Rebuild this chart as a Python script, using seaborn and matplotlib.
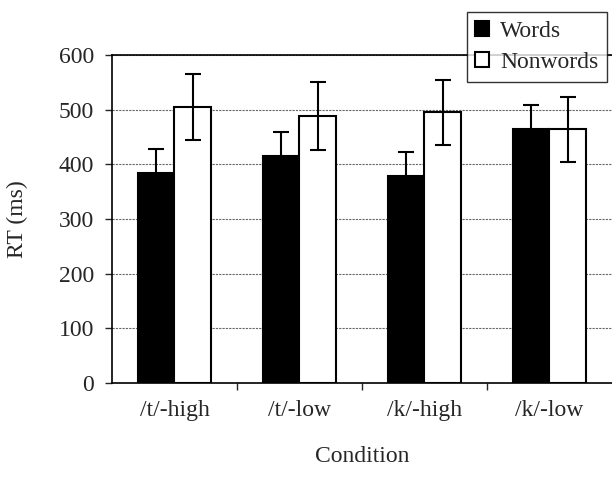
import matplotlib.pyplot as plt
import seaborn as sns
import pandas as pd

conditions = ['/t/-high', '/t/-low', '/k/-high', '/k/-low']
words_rt = [384, 415, 378, 464]
words_err = [44, 44, 45, 45]
nonwords_rt = [505, 489, 495, 464]
nonwords_err = [61, 62, 59, 60]

df = pd.DataFrame({
    'Condition': conditions * 2,
    'RT': words_rt + nonwords_rt,
    'Type': ['Words'] * 4 + ['Nonwords'] * 4,
})

sns.set_style('white')
plt.rcParams['font.family'] = ['Liberation Serif', 'DejaVu Serif']

fig = plt.figure(figsize=(6.12, 4.82), dpi=100)
ax = fig.add_axes([0.183, 0.2054, 0.817, 0.6805])

sns.barplot(data=df, x='Condition', y='RT', hue='Type',
            palette={'Words': 'black', 'Nonwords': 'white'},
            edgecolor='black', linewidth=1.5, width=0.58,
            saturation=1, errorbar=None, ax=ax)

# error bars on top of each bar
for cont, errs in zip(ax.containers, [words_err, nonwords_err]):
    for bar, e in zip(cont, errs):
        x = bar.get_x() + bar.get_width() / 2
        ax.errorbar(x, bar.get_height(), yerr=e, fmt='none', ecolor='black',
                    elinewidth=1.5, capsize=6, capthick=1.5, zorder=5)

ax.set_ylim(0, 600)
ax.set_xlim(-0.5, 3.5)
ax.set_yticks(range(0, 601, 100))
ax.yaxis.grid(True, linestyle=(0, (2, 1)), color='#666666', linewidth=0.8)
ax.set_axisbelow(True)

ax.set_xticks([0.5, 1.5, 2.5], minor=True)
ax.tick_params(axis='x', which='major', length=0, pad=12, labelsize=17)
ax.tick_params(axis='x', which='minor', length=5, width=1, direction='out', bottom=True)
ax.tick_params(axis='y', length=5, width=1, direction='out', left=True, labelsize=17, pad=8)

for s in ['left', 'bottom', 'top']:
    ax.spines[s].set_color('black')
    ax.spines[s].set_linewidth(1.2)
ax.spines['right'].set_visible(False)

ax.set_xlabel('Condition', fontsize=17, labelpad=18)
ax.set_ylabel('RT (ms)', fontsize=17, labelpad=22)

leg = ax.legend(loc='upper left', bbox_to_anchor=(0.71, 1.13), fontsize=17,
                frameon=True, fancybox=False, edgecolor='black',
                handlelength=0.6, handleheight=0.6, handletextpad=0.45,
                borderpad=0.35, labelspacing=0.45, borderaxespad=0)
leg.get_frame().set_linewidth(1.0)

fig.savefig('out.png', dpi=100)
